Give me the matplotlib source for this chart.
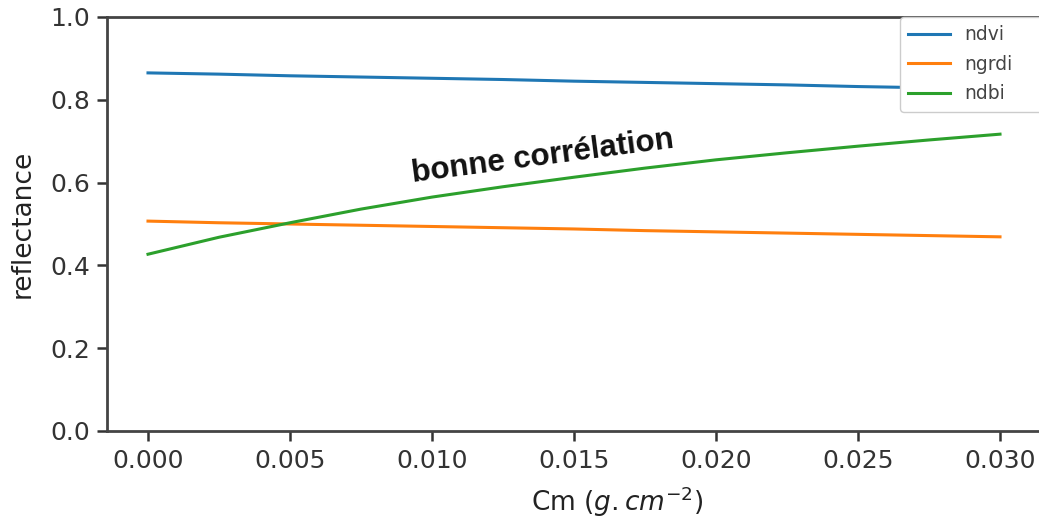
import matplotlib
matplotlib.use("Agg")
import matplotlib.pyplot as plt

# Cm values (g.cm^-2) and index responses
cm = [0.000, 0.0025, 0.005, 0.0075, 0.010, 0.0125, 0.015, 0.0175, 0.020, 0.0225, 0.025, 0.0275, 0.030]
ndvi = [0.865, 0.862, 0.858, 0.855, 0.852, 0.849, 0.845, 0.842, 0.839, 0.836, 0.832, 0.829, 0.826]
ngrdi = [0.507, 0.503, 0.500, 0.497, 0.494, 0.491, 0.488, 0.484, 0.481, 0.478, 0.475, 0.472, 0.469]
ndbi = [0.427, 0.468, 0.503, 0.536, 0.565, 0.590, 0.613, 0.635, 0.655, 0.672, 0.688, 0.703, 0.717]
xticks = [0.000, 0.005, 0.010, 0.015, 0.020, 0.025, 0.030]
xticklabels = ["0.000", "0.005", "0.010", "0.015", "0.020", "0.025", "0.030"]

W, H = 1039, 520
fig = plt.figure(figsize=(W / 100, H / 100), dpi=100)
# axes run past the right edge of the figure
ax_w = 1060 - 107
ax_h = 431 - 17
ax = fig.add_axes([107 / W, 1 - 431 / H, ax_w / W, ax_h / H])

ax.plot(cm, ndvi, color="#1f77b4", lw=2.2, label="ndvi")
ax.plot(cm, ngrdi, color="#ff7f0e", lw=2.2, label="ngrdi")
ax.plot(cm, ndbi, color="#2ca02c", lw=2.2, label="ndbi")

px = 0.030 / (1000 - 148)
ax.set_xlim(-41 * px, 0.030 + 60 * px)
ax.set_ylim(0, 1.0)
ax.set_xticks(xticks)
ax.set_xticklabels(xticklabels)
ax.tick_params(labelsize=18, width=1.8, length=7, colors="#333333")
ax.tick_params(axis="x", pad=6)
ax.tick_params(axis="y", pad=5)
for side in ax.spines.values():
    side.set_linewidth(2)
    side.set_color("#444444")

ax.set_xlabel(r"Cm $(g.cm^{-2})$", fontsize=19, color="#222222", va="center")
ax.set_ylabel("reflectance", fontsize=19, color="#222222", va="center")
ax.xaxis.set_label_coords((617 - 107) / ax_w, -(502 - 431) / ax_h)
ax.yaxis.set_label_coords((23 - 107) / ax_w, 0.5)

ax.text(0.0139, 0.662, "bonne corrélation", family="Liberation Sans", weight="bold",
        fontsize=22.5, rotation=7.5, ha="center", va="center", color="#111111")

leg = ax.legend(loc="upper left", bbox_to_anchor=(900 / W, 1 - 110 / H, 160 / W, 93 / H),
                bbox_transform=fig.transFigure, mode="expand", fontsize=13.5,
                frameon=True, framealpha=1, handlelength=2.2, handletextpad=0.75,
                labelspacing=0.55, borderpad=0.45, borderaxespad=0,
                edgecolor="#cccccc")
for t in leg.get_texts():
    t.set_color("#444444")

fig.savefig("out.png", dpi=100)
